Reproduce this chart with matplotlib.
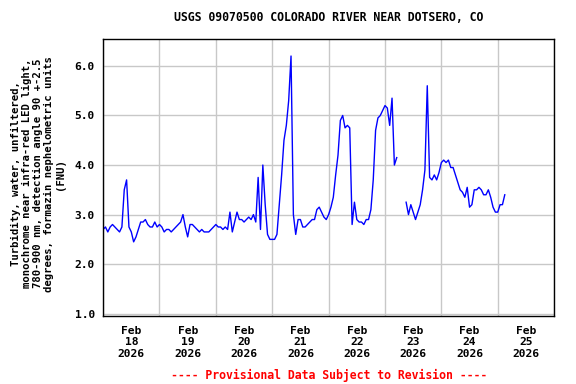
import numpy as np
import pandas as pd
import matplotlib
matplotlib.use("Agg")
import matplotlib.pyplot as plt
import matplotlib.dates as mdates

# hourly turbidity readings (FNU), Feb 18 00:00 onwards, NaN = gap
feb18 = [2.7, 2.75, 2.65, 2.75, 2.8, 2.75, 2.7, 2.65, 2.75, 3.5, 3.7, 2.75,
         2.65, 2.45, 2.55, 2.7, 2.85, 2.85, 2.9, 2.8, 2.75, 2.75, 2.85, 2.75]
feb19 = [2.8, 2.75, 2.65, 2.7, 2.7, 2.65, 2.7, 2.75, 2.8, 2.85, 3.0, 2.75,
         2.55, 2.8, 2.8, 2.75, 2.7, 2.65, 2.7, 2.65, 2.65, 2.65, 2.7, 2.75]
feb20 = [2.8, 2.75, 2.75, 2.7, 2.75, 2.7, 3.05, 2.65, 2.85, 3.05, 2.9, 2.9,
         2.85, 2.9, 2.95, 2.9, 3.0, 2.85, 3.75, 2.7, 4.0, 3.2, 2.6, 2.5]
feb21 = [2.5, 2.5, 2.6, 3.2, 3.8, 4.5, 4.8, 5.3, 6.2, 3.0, 2.6, 2.9,
         2.9, 2.75, 2.75, 2.8, 2.85, 2.9, 2.9, 3.1, 3.15, 3.05, 2.95, 2.9]
feb22 = [3.0, 3.15, 3.35, 3.8, 4.2, 4.9, 5.0, 4.75, 4.8, 4.75, 2.8, 3.25,
         2.9, 2.85, 2.85, 2.8, 2.9, 2.9, 3.1, 3.7, 4.7, 4.95, 5.0, 5.1]
feb23 = [5.2, 5.15, 4.8, 5.35, 4.0, 4.15, np.nan, np.nan, np.nan, 3.25, 3.0, 3.2,
         3.05, 2.9, 3.05, 3.2, 3.5, 3.9, 5.6, 3.75, 3.7, 3.8, 3.7, 3.85]
feb24 = [4.05, 4.1, 4.05, 4.1, 3.95, 3.95, 3.8, 3.65, 3.5, 3.45, 3.35, 3.55,
         3.15, 3.2, 3.5, 3.5, 3.55, 3.5, 3.4, 3.4, 3.5, 3.35, 3.15, 3.05]
feb25 = [3.05, 3.2, 3.2, 3.4]

turb = feb18 + feb19 + feb20 + feb21 + feb22 + feb23 + feb24 + feb25
times = pd.date_range("2026-02-18 00:00", periods=len(turb), freq="h")

yticks = [1.0, 2.0, 3.0, 4.0, 5.0, 6.0]

title = "USGS 09070500 COLORADO RIVER NEAR DOTSERO, CO"
ylab = ("Turbidity, water, unfiltered,\n"
        "monochrome near infra-red LED light,\n"
        "780-900 nm, detection angle 90 +-2.5\n"
        "degrees, formazin nephelometric units\n"
        "(FNU)")
note = "---- Provisional Data Subject to Revision ----"

mono = "DejaVu Sans Mono"

fig = plt.figure(figsize=(5.76, 3.84), dpi=100)
ax = fig.add_axes([0.179, 0.177, 0.783, 0.721])

ax.plot(times, turb, color="#0000ff", lw=1.0)

ax.set_xlim(pd.Timestamp("2026-02-18"), pd.Timestamp("2026-02-26"))
ax.set_ylim(0.953, 6.54)
ax.set_yticks(yticks)
ax.yaxis.set_major_formatter(matplotlib.ticker.FormatStrFormatter("%.1f"))

ax.xaxis.set_major_locator(mdates.DayLocator())
ax.xaxis.set_major_formatter(matplotlib.ticker.NullFormatter())
ax.xaxis.set_minor_locator(mdates.HourLocator(byhour=[12]))
ax.xaxis.set_minor_formatter(mdates.DateFormatter("%b\n%d\n%Y"))

ax.grid(True, which="major", color="#c8c8c8", lw=1.0)
ax.set_axisbelow(True)
ax.tick_params(which="both", length=0)
ax.tick_params(axis="y", pad=6)
ax.tick_params(axis="x", which="minor", pad=7)
for lab in ax.get_yticklabels() + ax.get_xticklabels(minor=True):
    lab.set_fontfamily(mono)
    lab.set_fontweight("bold")
    lab.set_fontsize(8.1)
for s in ax.spines.values():
    s.set_linewidth(1.0)

ax.set_title(title, fontfamily=mono, fontweight="bold", fontsize=8.3, pad=13)
fig.text(0.066, 0.548, ylab, rotation=90, ha="center", va="center",
         multialignment="center", fontfamily=mono, fontweight="bold",
         fontsize=7.7, linespacing=1.1)
fig.text(0.571, 0.023, note, ha="center", va="center", color="red",
         fontfamily=mono, fontweight="bold", fontsize=8.3)

fig.savefig("out.png", dpi=100)
